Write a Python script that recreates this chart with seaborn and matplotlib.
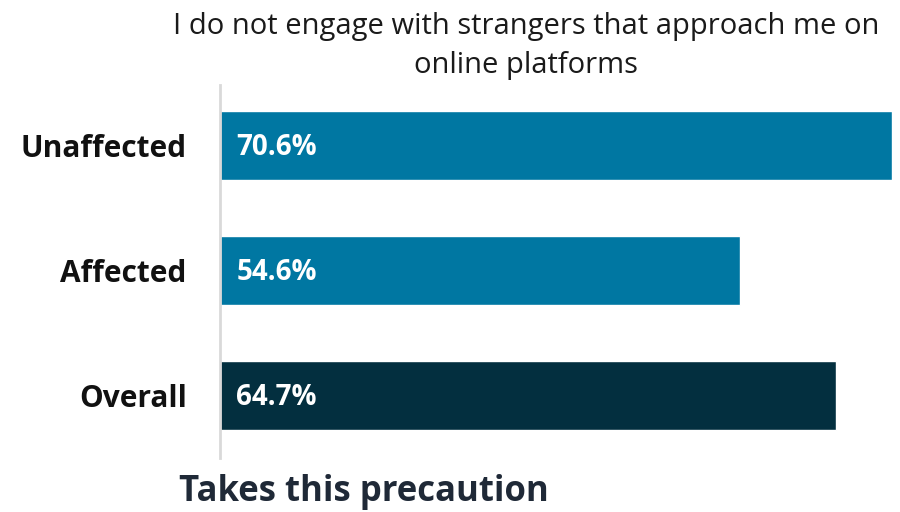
import matplotlib
matplotlib.use("Agg")
import matplotlib.pyplot as plt
import seaborn as sns
import pandas as pd

groups = ["Unaffected", "Affected", "Overall"]
shares = [70.6, 54.6, 64.7]
bar_colors = ["#0077A2", "#0077A2", "#032F3F"]

title = "I do not engage with strangers that approach me on\nonline platforms"
x_title = "Takes this precaution"

sns.set_theme(style="white")
plt.rcParams["font.family"] = ["Open Sans", "DejaVu Sans"]

df = pd.DataFrame({"group": groups, "share": shares})

fig = plt.figure(figsize=(9, 5.12), dpi=100)
ax = fig.add_axes([220 / 900, 1 - 458 / 512, 672 / 900, 373 / 512])

sns.barplot(data=df, x="share", y="group", hue="group", palette=bar_colors,
            order=groups, hue_order=groups, width=0.55, legend=False,
            saturation=1, ax=ax)

for patch, val in zip(ax.patches, shares):
    y = patch.get_y() + patch.get_height() / 2
    ax.text(1.7, y + 0.02, f"{val:.1f}%", color="white", fontsize=20,
            fontweight="bold", va="center", ha="left")

ax.set_xlim(0, max(shares))
ax.set_ylim(2.5, -0.48)
ax.set_xlabel("")
ax.set_ylabel("")
ax.set_xticks([])
ax.tick_params(axis="y", length=0, pad=24)
for lbl in ax.get_yticklabels():
    lbl.set_fontsize(21.5)
    lbl.set_fontweight("bold")
    lbl.set_color("#111111")

for side in ["top", "right", "bottom"]:
    ax.spines[side].set_visible(False)
ax.spines["left"].set_color("#D9D9D9")
ax.spines["left"].set_linewidth(2)

fig.text(526 / 900, 1 - 46 / 512, title, ha="center", va="center",
         fontsize=21, color="#1A1A1A", linespacing=1.42)
fig.text(364 / 900, 1 - 492 / 512, x_title, ha="center", va="center",
         fontsize=25, fontweight="bold", color="#1F2937")

fig.savefig("out.png", dpi=100)
